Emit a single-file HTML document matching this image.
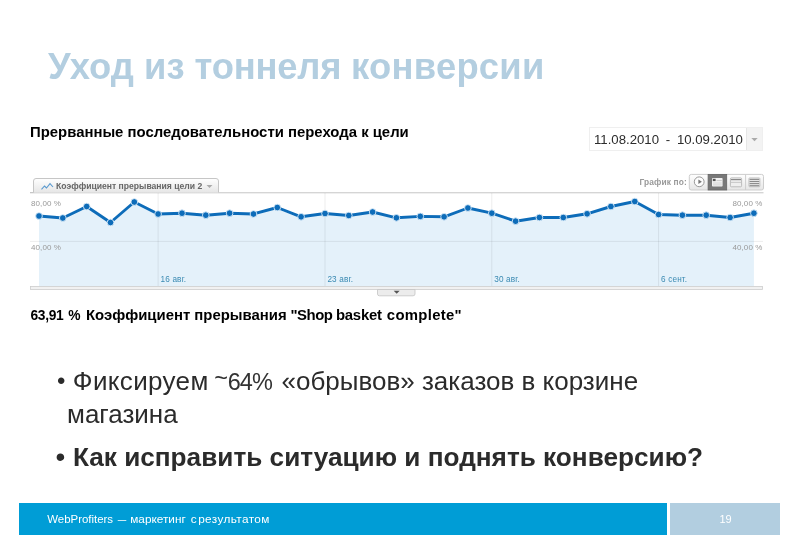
<!DOCTYPE html>
<html><head><meta charset="utf-8">
<style>
html,body{margin:0;padding:0;background:#fff;}
body{width:800px;height:554px;position:relative;overflow:hidden;font-family:"Liberation Sans",sans-serif;}
.abs{position:absolute;white-space:nowrap;line-height:1;}
#title{left:48px;top:48.5px;font-size:36.4px;font-weight:bold;color:#b3cee0;}
#h1{left:30px;top:124.9px;font-size:14.9px;font-weight:bold;color:#000;}
#h2{left:30.5px;top:308px;font-size:14.9px;font-weight:bold;color:#000;}
#date{left:594px;top:133.1px;font-size:13.2px;word-spacing:3.1px;color:#2c2c2c;}
#b1{left:72.8px;top:367.7px;font-size:26px;color:#2b2b2b;}
#b1b{left:67px;top:400.8px;font-size:26px;color:#2b2b2b;}
#b2{left:72.9px;top:444px;font-size:26.2px;font-weight:bold;color:#2b2b2b;}
#foot1{left:18.8px;top:502.8px;width:647.8px;height:32px;background:#009dd6;}
#foot2{left:669.5px;top:502.8px;width:110.9px;height:32px;background:#b2cee0;}
#ft{left:47.2px;top:513.5px;font-size:11.8px;color:#fff;}
#pn{left:719.5px;top:513.5px;font-size:11px;color:#fff;}
.alt{font-size:23.5px;letter-spacing:-0.9px;margin-left:-1px;margin-right:2.2px;color:#333;}
.bul{font-size:22px;color:#2b2b2b;left:56.6px;}
</style></head><body>
<div class="abs" id="title">Уход из <span style="letter-spacing:-0.2px">тоннеля</span> <span style="letter-spacing:0.25px;margin-left:-0.4px">конверсии</span></div>
<div class="abs" id="h1">Прерванные последовательности перехода к цели</div>
<svg class="abs" id="chart" style="left:0;top:0" width="800" height="554" viewBox="0 0 800 554" font-family="Liberation Sans, sans-serif">
<defs><linearGradient id="tg" x1="0" y1="0" x2="0" y2="1"><stop offset="0" stop-color="#fff"/><stop offset="1" stop-color="#e6e6e6"/></linearGradient></defs>
<!-- chart frame -->
<rect x="30" y="192.2" width="733.5" height="1.1" fill="#cbcbcb"/>
<path d="M39.0,286.3 L39.0,216.0 L62.8,218.0 L86.7,206.5 L110.5,222.5 L134.3,202.0 L158.1,214.0 L182.0,213.2 L205.8,215.2 L229.6,213.2 L253.5,214.0 L277.3,207.5 L301.1,216.8 L325.0,213.5 L348.8,215.5 L372.6,212.0 L396.4,217.8 L420.3,216.4 L444.1,216.8 L467.9,208.0 L491.8,213.2 L515.6,221.2 L539.4,217.5 L563.3,217.5 L587.1,213.8 L610.9,206.5 L634.8,201.5 L658.6,214.5 L682.4,215.2 L706.2,215.2 L730.1,217.5 L753.9,213.2 L753.9,286.3 Z" fill="#e4f1fa"/>
<line x1="30" y1="241.4" x2="763" y2="241.4" stroke="#000" stroke-opacity="0.075" stroke-width="1"/>
<line x1="158.1" y1="193" x2="158.1" y2="286" stroke="#000" stroke-opacity="0.075" stroke-width="1"/><line x1="325.0" y1="193" x2="325.0" y2="286" stroke="#000" stroke-opacity="0.075" stroke-width="1"/><line x1="491.8" y1="193" x2="491.8" y2="286" stroke="#000" stroke-opacity="0.075" stroke-width="1"/><line x1="658.6" y1="193" x2="658.6" y2="286" stroke="#000" stroke-opacity="0.075" stroke-width="1"/>
<rect x="30.5" y="286.5" width="732" height="3" fill="#f1f1f1" stroke="#cdcdcd" stroke-width="0.8"/>
<polyline points="39.0,216.0 62.8,218.0 86.7,206.5 110.5,222.5 134.3,202.0 158.1,214.0 182.0,213.2 205.8,215.2 229.6,213.2 253.5,214.0 277.3,207.5 301.1,216.8 325.0,213.5 348.8,215.5 372.6,212.0 396.4,217.8 420.3,216.4 444.1,216.8 467.9,208.0 491.8,213.2 515.6,221.2 539.4,217.5 563.3,217.5 587.1,213.8 610.9,206.5 634.8,201.5 658.6,214.5 682.4,215.2 706.2,215.2 730.1,217.5 753.9,213.2" fill="none" stroke="#0d6cb9" stroke-width="2.9" stroke-linejoin="round"/>
<g fill="#0d6cb9" stroke="#d6e9f7" stroke-width="0.9"><circle cx="39.0" cy="216.0" r="3.35"/><circle cx="62.8" cy="218.0" r="3.35"/><circle cx="86.7" cy="206.5" r="3.35"/><circle cx="110.5" cy="222.5" r="3.35"/><circle cx="134.3" cy="202.0" r="3.35"/><circle cx="158.1" cy="214.0" r="3.35"/><circle cx="182.0" cy="213.2" r="3.35"/><circle cx="205.8" cy="215.2" r="3.35"/><circle cx="229.6" cy="213.2" r="3.35"/><circle cx="253.5" cy="214.0" r="3.35"/><circle cx="277.3" cy="207.5" r="3.35"/><circle cx="301.1" cy="216.8" r="3.35"/><circle cx="325.0" cy="213.5" r="3.35"/><circle cx="348.8" cy="215.5" r="3.35"/><circle cx="372.6" cy="212.0" r="3.35"/><circle cx="396.4" cy="217.8" r="3.35"/><circle cx="420.3" cy="216.4" r="3.35"/><circle cx="444.1" cy="216.8" r="3.35"/><circle cx="467.9" cy="208.0" r="3.35"/><circle cx="491.8" cy="213.2" r="3.35"/><circle cx="515.6" cy="221.2" r="3.35"/><circle cx="539.4" cy="217.5" r="3.35"/><circle cx="563.3" cy="217.5" r="3.35"/><circle cx="587.1" cy="213.8" r="3.35"/><circle cx="610.9" cy="206.5" r="3.35"/><circle cx="634.8" cy="201.5" r="3.35"/><circle cx="658.6" cy="214.5" r="3.35"/><circle cx="682.4" cy="215.2" r="3.35"/><circle cx="706.2" cy="215.2" r="3.35"/><circle cx="730.1" cy="217.5" r="3.35"/><circle cx="753.9" cy="213.2" r="3.35"/></g>
<g font-size="8" fill="#999" letter-spacing="0.1"><text x="31" y="205.5">80,00 %</text><text x="31" y="249.8">40,00 %</text><text x="762.5" y="205.5" text-anchor="end">80,00 %</text><text x="762.5" y="249.8" text-anchor="end">40,00 %</text></g>
<text x="160.5" y="282.3" font-size="8.2" letter-spacing="0.17" fill="#3a8ab2">16 авг.</text><text x="327.4" y="282.3" font-size="8.2" letter-spacing="0.17" fill="#3a8ab2">23 авг.</text><text x="494.2" y="282.3" font-size="8.2" letter-spacing="0.17" fill="#3a8ab2">30 авг.</text><text x="661.0" y="282.3" font-size="8.2" letter-spacing="0.17" fill="#3a8ab2">6 сент.</text>
<!-- tab -->
<path d="M30,192.5 L33.5,192.5 L33.5,181 Q33.5,178.5 36,178.5 L216,178.5 Q218.5,178.5 218.5,181 L218.5,192.5" fill="url(#tg)" stroke="#c6c6c6" stroke-width="1"/>
<polyline points="41.5,189.3 44.5,186 46.5,188 50,183.6 53,187" fill="none" stroke="#5b9bd0" stroke-width="1.1"/>
<text x="56" y="189" font-size="8.6" font-weight="bold" fill="#666">Коэффициент прерывания цели 2</text>
<path d="M206.5,185 L212.5,185 L209.5,188 Z" fill="#aaa"/>
<!-- bottom handle -->
<path d="M377.5,289.5 L415,289.5 L415,294 Q415,295.8 413,295.8 L379.5,295.8 Q377.5,295.8 377.5,294 Z" fill="#ececec" stroke="#c4c4c4" stroke-width="0.8"/>
<path d="M393.7,290.8 L399.7,290.8 L396.7,293.8 Z" fill="#555"/>
<!-- Graph by -->
<text x="639.5" y="185.3" font-size="8.4" font-weight="bold" fill="#999" letter-spacing="0.12">График по:</text>
<rect x="689.3" y="174.4" width="74.2" height="15.6" rx="2" fill="url(#tg)" stroke="#cdcdcd" stroke-width="1"/>
<rect x="708.1" y="174.4" width="18.6" height="15.6" fill="#787878" stroke="#666" stroke-width="0.8"/>
<line x1="745.6" y1="174.4" x2="745.6" y2="190" stroke="#cdcdcd"/>
<circle cx="699.2" cy="181.8" r="4.9" fill="#fdfdfd" stroke="#999" stroke-width="1"/>
<path d="M698.4,179.6 L701.9,181.8 L698.4,184 Z" fill="#777"/>
<rect x="712" y="178" width="10.6" height="8.6" rx="0.8" fill="#f2f2f2"/>
<rect x="712.8" y="178.8" width="2.8" height="2.3" fill="#555"/>
<line x1="716.5" y1="180.6" x2="721.8" y2="180.6" stroke="#bbb" stroke-width="0.8"/>
<line x1="713" y1="183" x2="721.8" y2="183" stroke="#ccc" stroke-width="0.8"/>
<line x1="713" y1="184.9" x2="721.8" y2="184.9" stroke="#ccc" stroke-width="0.8"/>
<rect x="730.4" y="177.9" width="11.2" height="8.9" rx="1" fill="#efefef" stroke="#b5b5b5" stroke-width="0.9"/>
<line x1="731" y1="179.6" x2="741" y2="179.6" stroke="#8a8a8a" stroke-width="1.2"/>
<line x1="731" y1="182.4" x2="741" y2="182.4" stroke="#bdbdbd" stroke-width="0.8"/>
<rect x="748.9" y="177.9" width="11" height="8.9" rx="0.8" fill="#e8e8e8" stroke="#bbb" stroke-width="0.8"/>
<g stroke="#8a8a8a" stroke-width="1.1"><line x1="749.6" y1="179.4" x2="759.2" y2="179.4"/><line x1="749.6" y1="181.5" x2="759.2" y2="181.5"/><line x1="749.6" y1="183.6" x2="759.2" y2="183.6"/><line x1="749.6" y1="185.7" x2="759.2" y2="185.7"/></g>
<!-- date box -->
<rect x="589.5" y="127.5" width="173" height="23" fill="#fff" stroke="#efefef" stroke-width="1"/>
<rect x="746.5" y="128" width="15.5" height="22" fill="#f3f3f3"/>
<line x1="746.5" y1="128" x2="746.5" y2="150" stroke="#e6e6e6"/>
<path d="M751.3,138 L757.7,138 L754.5,141.3 Z" fill="#aaa"/>
</svg>
<div class="abs" id="date">11.08.2010 - 10.09.2010</div>
<div class="abs" id="h2"><span style="font-size:13.8px;letter-spacing:-0.35px;word-spacing:1.6px;margin-right:1.5px">63,91 %</span> Коэффициент прерывания <span style="letter-spacing:-0.45px;margin-left:-0.3px">"Shop</span> <span style="letter-spacing:-0.23px;margin-left:-0.7px">basket</span> <span style="letter-spacing:0.3px;margin-left:0.9px">complete"</span></div>
<div class="abs bul" style="top:368.8px;left:56.9px;font-size:24px">•</div><div class="abs bul" style="top:443.3px;left:55.6px;font-size:28px">•</div>
<div class="abs" id="b1"><span style="letter-spacing:0.35px">Фиксируем</span> <span class="alt"><span style="position:relative;top:-4px;margin-right:0.6px;margin-left:-0.6px">~</span>64%</span> «обрывов» заказов в корзине</div>
<div class="abs" id="b1b">магазина</div>
<div class="abs" id="b2">Как исправить ситуацию и поднять конверсию?</div>
<div class="abs" id="foot1"></div><div class="abs" id="foot2"></div>
<div class="abs" id="ft"><span style="font-size:11.45px">WebProfiters</span> <span style="display:inline-block;transform:scaleX(0.72);margin:0 -0.9px 0 -0.3px">—</span> маркетинг <span style="margin-left:1.8px">с</span> <span style="letter-spacing:0.38px;margin-left:-1.9px">результатом</span></div>
<div class="abs" id="pn">19</div>
</body></html>
